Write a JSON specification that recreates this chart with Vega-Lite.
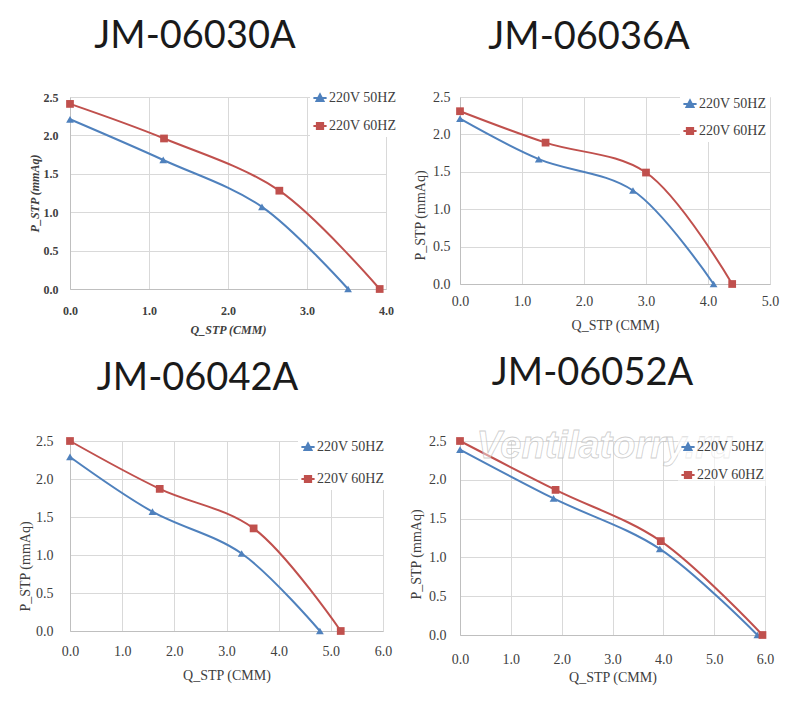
{
  "$schema": "https://vega.github.io/schema/vega-lite/v6.json",
  "background": "white",
  "padding": {"left": 18, "top": 18, "right": 5, "bottom": 5},
  "datasets": {
    "p1": [
      {"series": "220V 50HZ", "q": 0, "p": 2.21},
      {"series": "220V 50HZ", "q": 1.18, "p": 1.68},
      {"series": "220V 50HZ", "q": 2.43, "p": 1.07},
      {"series": "220V 50HZ", "q": 3.52, "p": 0},
      {"series": "220V 60HZ", "q": 0, "p": 2.41},
      {"series": "220V 60HZ", "q": 1.19, "p": 1.96},
      {"series": "220V 60HZ", "q": 2.65, "p": 1.28},
      {"series": "220V 60HZ", "q": 3.92, "p": 0}
    ],
    "p2": [
      {"series": "220V 50HZ", "q": 0, "p": 2.21},
      {"series": "220V 50HZ", "q": 1.27, "p": 1.67},
      {"series": "220V 50HZ", "q": 2.79, "p": 1.25},
      {"series": "220V 50HZ", "q": 4.09, "p": 0},
      {"series": "220V 60HZ", "q": 0, "p": 2.31},
      {"series": "220V 60HZ", "q": 1.38, "p": 1.89},
      {"series": "220V 60HZ", "q": 3.0, "p": 1.49},
      {"series": "220V 60HZ", "q": 4.39, "p": 0}
    ],
    "p3": [
      {"series": "220V 50HZ", "q": 0, "p": 2.29},
      {"series": "220V 50HZ", "q": 1.58, "p": 1.57},
      {"series": "220V 50HZ", "q": 3.29, "p": 1.02},
      {"series": "220V 50HZ", "q": 4.79, "p": 0},
      {"series": "220V 60HZ", "q": 0, "p": 2.5},
      {"series": "220V 60HZ", "q": 1.72, "p": 1.87},
      {"series": "220V 60HZ", "q": 3.52, "p": 1.35},
      {"series": "220V 60HZ", "q": 5.19, "p": 0}
    ],
    "p4": [
      {"series": "220V 50HZ", "q": 0, "p": 2.39},
      {"series": "220V 50HZ", "q": 1.84, "p": 1.76},
      {"series": "220V 50HZ", "q": 3.93, "p": 1.11},
      {"series": "220V 50HZ", "q": 5.85, "p": 0},
      {"series": "220V 60HZ", "q": 0, "p": 2.5},
      {"series": "220V 60HZ", "q": 1.88, "p": 1.87},
      {"series": "220V 60HZ", "q": 3.95, "p": 1.21},
      {"series": "220V 60HZ", "q": 5.95, "p": 0}
    ],
    "wm": [{"label": "Ventilatorry.ru", "q": 2.85, "p": 2.42}]
  },
  "config": {
    "view": {"stroke": null},
    "axis": {
      "grid": true, "gridColor": "#d9d9d9", "gridWidth": 1,
      "domainColor": "#bfbfbf", "domainWidth": 1, "ticks": false, "labelFlush": false,
      "labelFont": "Liberation Serif", "labelFontSize": 14, "labelColor": "#404040",
      "titleFont": "Liberation Serif", "titleFontSize": 14, "titleFontWeight": "normal", "titleColor": "#404040"
    },
    "legend": {
      "labelFont": "Liberation Serif", "labelFontSize": 14, "labelColor": "#404040",
      "fillColor": "white", "padding": 3, "symbolSize": 144, "symbolStrokeWidth": 2,
      "labelOffset": 2, "orient": "none", "title": null
    },
    "title": {"font": "Lato", "fontSize": 38, "fontWeight": "normal", "color": "#1a1a1a", "anchor": "middle", "frame": "group", "baseline": "alphabetic"}
  },
  "columns": 2,
  "align": "each",
  "bounds": "flush",
  "spacing": {"row": 152, "column": 74},
  "resolve": {"scale": {"color": "independent"}, "legend": {"color": "independent"}},
  "concat": [
    {
      "width": 316, "height": 192,
      "title": {"text": "JM-06030A", "dx": -33, "offset": 32},
      "data": {"name": "p1"},
      "encoding": {
        "x": {"field": "q", "type": "quantitative", "scale": {"domain": [0, 4], "nice": false},
              "axis": {"values": [0, 1, 2, 3, 4], "format": ".1f", "title": "Q_STP (CMM)", "labelFontSize": 12, "labelFontWeight": "bold", "titleFontSize": 12, "titleFontWeight": "bold", "titleFontStyle": "italic", "labelPadding": 16, "titlePadding": 8}},
        "y": {"field": "p", "type": "quantitative", "scale": {"domain": [0, 2.5], "nice": false},
              "axis": {"values": [0, 0.5, 1, 1.5, 2, 2.5], "format": ".1f", "title": "P_STP (mmAq)", "labelFontSize": 12, "labelFontWeight": "bold", "titleFontSize": 12, "titleFontWeight": "bold", "titleFontStyle": "italic", "labelPadding": 12, "titlePadding": 2}},
        "color": {"field": "series", "type": "nominal", "scale": {"domain": ["220V 50HZ", "220V 60HZ"], "range": ["#4F81BD", "#C0504D"]},
                  "legend": {"legendX": 240, "legendY": -9, "rowPadding": 13,
                             "encode": {"symbols": {"update": {
                               "shape": {"signal": "datum.value === '220V 50HZ' ? 'M-1.1,0H1.1M-0.58,0.5L0,-0.6L0.58,0.5Z' : 'M-1.1,0H1.1M-0.52,-0.52H0.52V0.52H-0.52Z'"},
                               "fill": {"signal": "datum.value === '220V 50HZ' ? '#4F81BD' : '#C0504D'"},
                               "stroke": {"signal": "datum.value === '220V 50HZ' ? '#4F81BD' : '#C0504D'"},
                               "strokeWidth": {"value": 2}, "opacity": {"value": 1}}}}}}
      },
      "layer": [
        {"mark": {"type": "line", "interpolate": "catmull-rom", "strokeWidth": 2}},
        {"transform": [{"filter": "datum.series === '220V 50HZ'"}], "mark": {"type": "point", "shape": "triangle-up", "filled": true, "opacity": 1, "size": 60}},
        {"transform": [{"filter": "datum.series === '220V 60HZ'"}], "mark": {"type": "point", "shape": "square", "filled": true, "opacity": 1, "size": 60}}
      ]
    },
    {
      "width": 310, "height": 187,
      "title": {"text": "JM-06036A", "dx": -26, "offset": 33},
      "data": {"name": "p2"},
      "encoding": {
        "x": {"field": "q", "type": "quantitative", "scale": {"domain": [0, 5], "nice": false},
              "axis": {"values": [0, 1, 2, 3, 4, 5], "format": ".1f", "title": "Q_STP (CMM)", "labelPadding": 10, "titlePadding": 10}},
        "y": {"field": "p", "type": "quantitative", "scale": {"domain": [0, 2.5], "nice": false},
              "axis": {"values": [0, 0.5, 1, 1.5, 2, 2.5], "format": ".1f", "title": "P_STP (mmAq)", "labelPadding": 10, "titlePadding": 5, "titleY": 118}},
        "color": {"field": "series", "type": "nominal", "scale": {"domain": ["220V 50HZ", "220V 60HZ"], "range": ["#4F81BD", "#C0504D"]},
                  "legend": {"legendX": 220, "legendY": -3, "rowPadding": 12,
                             "encode": {"symbols": {"update": {
                               "shape": {"signal": "datum.value === '220V 50HZ' ? 'M-1.1,0H1.1M-0.58,0.5L0,-0.6L0.58,0.5Z' : 'M-1.1,0H1.1M-0.52,-0.52H0.52V0.52H-0.52Z'"},
                               "fill": {"signal": "datum.value === '220V 50HZ' ? '#4F81BD' : '#C0504D'"},
                               "stroke": {"signal": "datum.value === '220V 50HZ' ? '#4F81BD' : '#C0504D'"},
                               "strokeWidth": {"value": 2}, "opacity": {"value": 1}}}}}}
      },
      "layer": [
        {"mark": {"type": "line", "interpolate": "catmull-rom", "strokeWidth": 2}},
        {"transform": [{"filter": "datum.series === '220V 50HZ'"}], "mark": {"type": "point", "shape": "triangle-up", "filled": true, "opacity": 1, "size": 60}},
        {"transform": [{"filter": "datum.series === '220V 60HZ'"}], "mark": {"type": "point", "shape": "square", "filled": true, "opacity": 1, "size": 60}}
      ]
    },
    {
      "width": 313, "height": 190,
      "title": {"text": "JM-06042A", "dx": -29, "offset": 36},
      "data": {"name": "p3"},
      "encoding": {
        "x": {"field": "q", "type": "quantitative", "scale": {"domain": [0, 6], "nice": false},
              "axis": {"values": [0, 1, 2, 3, 4, 5, 6], "format": ".1f", "title": "Q_STP (CMM)", "labelPadding": 13, "titlePadding": 10}},
        "y": {"field": "p", "type": "quantitative", "scale": {"domain": [0, 2.5], "nice": false},
              "axis": {"values": [0, 0.5, 1, 1.5, 2, 2.5], "format": ".1f", "title": "P_STP (mmAq)", "labelPadding": 17, "titlePadding": 3, "titleY": 125}},
        "color": {"field": "series", "type": "nominal", "scale": {"domain": ["220V 50HZ", "220V 60HZ"], "range": ["#4F81BD", "#C0504D"]},
                  "legend": {"legendX": 228, "legendY": -4, "rowPadding": 17,
                             "encode": {"symbols": {"update": {
                               "shape": {"signal": "datum.value === '220V 50HZ' ? 'M-1.1,0H1.1M-0.58,0.5L0,-0.6L0.58,0.5Z' : 'M-1.1,0H1.1M-0.52,-0.52H0.52V0.52H-0.52Z'"},
                               "fill": {"signal": "datum.value === '220V 50HZ' ? '#4F81BD' : '#C0504D'"},
                               "stroke": {"signal": "datum.value === '220V 50HZ' ? '#4F81BD' : '#C0504D'"},
                               "strokeWidth": {"value": 2}, "opacity": {"value": 1}}}}}}
      },
      "layer": [
        {"mark": {"type": "line", "interpolate": "catmull-rom", "strokeWidth": 2}},
        {"transform": [{"filter": "datum.series === '220V 50HZ'"}], "mark": {"type": "point", "shape": "triangle-up", "filled": true, "opacity": 1, "size": 60}},
        {"transform": [{"filter": "datum.series === '220V 60HZ'"}], "mark": {"type": "point", "shape": "square", "filled": true, "opacity": 1, "size": 60}}
      ]
    },
    {
      "width": 305, "height": 194,
      "title": {"text": "JM-06052A", "dx": -20, "offset": 35},
      "encoding": {
        "x": {"field": "q", "type": "quantitative", "scale": {"domain": [0, 6], "nice": false},
              "axis": {"values": [0, 1, 2, 3, 4, 5, 6], "format": ".1f", "title": "Q_STP (CMM)", "labelPadding": 17, "titlePadding": 4}},
        "y": {"field": "p", "type": "quantitative", "scale": {"domain": [0, 2.5], "nice": false},
              "axis": {"values": [0, 0.5, 1, 1.5, 2, 2.5], "format": ".1f", "title": "P_STP (mmAq)", "labelPadding": 14, "titlePadding": 5, "titleY": 113}}
      },
      "layer": [
        {"data": {"name": "p4"},
         "mark": {"type": "line", "interpolate": "catmull-rom", "strokeWidth": 2},
         "encoding": {"color": {"field": "series", "type": "nominal", "scale": {"domain": ["220V 50HZ", "220V 60HZ"], "range": ["#4F81BD", "#C0504D"]},
                  "legend": {"legendX": 218, "legendY": -4, "rowPadding": 13, "fillColor": "rgba(255,255,255,0.6)",
                             "encode": {"symbols": {"update": {
                               "shape": {"signal": "datum.value === '220V 50HZ' ? 'M-1.1,0H1.1M-0.58,0.5L0,-0.6L0.58,0.5Z' : 'M-1.1,0H1.1M-0.52,-0.52H0.52V0.52H-0.52Z'"},
                               "fill": {"signal": "datum.value === '220V 50HZ' ? '#4F81BD' : '#C0504D'"},
                               "stroke": {"signal": "datum.value === '220V 50HZ' ? '#4F81BD' : '#C0504D'"},
                               "strokeWidth": {"value": 2}, "opacity": {"value": 1}}}}}}}},
        {"data": {"name": "p4"}, "transform": [{"filter": "datum.series === '220V 50HZ'"}],
         "mark": {"type": "point", "shape": "triangle-up", "filled": true, "opacity": 1, "size": 60},
         "encoding": {"color": {"field": "series", "type": "nominal"}}},
        {"data": {"name": "p4"}, "transform": [{"filter": "datum.series === '220V 60HZ'"}],
         "mark": {"type": "point", "shape": "square", "filled": true, "opacity": 1, "size": 60},
         "encoding": {"color": {"field": "series", "type": "nominal"}}},
        {"data": {"name": "wm"},
         "mark": {"type": "text", "font": "Liberation Sans", "fontSize": 38, "fontWeight": "bold", "fontStyle": "italic", "fill": "#ffffff", "fillOpacity": 0.45, "stroke": "#b8b8b8", "strokeOpacity": 0.7, "strokeWidth": 0.8},
         "encoding": {"text": {"field": "label"}}}
      ]
    }
  ]
}
